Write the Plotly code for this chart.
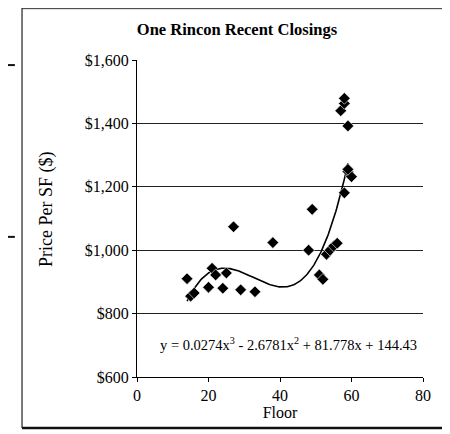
import numpy as np
import plotly.graph_objects as go

# Data
floors = [14, 15, 16, 20, 21, 22, 24, 25, 27, 29, 33, 38,
          48, 49, 51, 52, 53, 54, 55, 56, 57, 58, 58, 58, 59, 59, 60, 59]
prices = [910, 855, 865, 883, 943, 922, 880, 928, 1074, 875, 869, 1024,
          1000, 1129, 922, 908, 987, 1000, 1013, 1022, 1440, 1463, 1479, 1181,
          1392, 1248, 1232, 1255]

# Trendline coefficients as printed on the chart (cubic, highest power first)
trend_coefs = [0.0274, -2.6781, 81.778, 144.43]
trend_range = [14, 59]
equation_text = "y = 0.0274x<sup>3</sup> - 2.6781x<sup>2</sup> + 81.778x + 144.43"

title_text = "<b>One Rincon Recent Closings</b>"
x_title = "Floor"
y_title = "Price Per SF ($)"
x_ticks = [0, 20, 40, 60, 80]
y_ticks = [600, 800, 1000, 1200, 1400, 1600]
y_tick_labels = ["$600", "$800", "$1,000", "$1,200", "$1,400", "$1,600"]

tx = np.linspace(trend_range[0], trend_range[1], 200)
ty = np.polyval(trend_coefs, tx)

serif = "Liberation Serif, Times New Roman, serif"

fig = go.Figure()
fig.add_trace(go.Scatter(x=tx, y=ty, mode="lines",
                         line=dict(color="black", width=1.6),
                         hoverinfo="skip", showlegend=False))
fig.add_trace(go.Scatter(x=floors, y=prices, mode="markers",
                         marker=dict(symbol="diamond", size=9, color="black",
                                     line=dict(color="white", width=0.6)),
                         showlegend=False))

fig.add_annotation(x=42.3, y=704, xref="x", yref="y", text=equation_text,
                   showarrow=False, font=dict(family=serif, size=14.5, color="black"))

# y-axis title placed slightly above the plot centre, as in the reference
fig.add_annotation(x=-0.315, y=0.53, xref="paper", yref="paper", text=y_title,
                   textangle=-90, showarrow=False, xanchor="center", yanchor="middle",
                   font=dict(family=serif, size=18, color="black"))

# outer frame lines of the scanned page
shapes = [
    dict(type="line", xref="paper", yref="paper", x0=-0.402, x1=-0.402, y0=1.165, y1=-0.161,
         line=dict(color="#222", width=1.2)),
    dict(type="line", xref="paper", yref="paper", x0=-0.402, x1=1.1, y0=1.162, y1=1.162,
         line=dict(color="#333", width=1)),
    dict(type="line", xref="paper", yref="paper", x0=-0.402, x1=1.1, y0=-0.161, y1=-0.161,
         line=dict(color="#111", width=2.5)),
    dict(type="line", xref="paper", yref="paper", x0=-0.451, x1=-0.427, y0=0.984, y1=0.984,
         line=dict(color="#111", width=2)),
    dict(type="line", xref="paper", yref="paper", x0=-0.451, x1=-0.427, y0=0.442, y1=0.442,
         line=dict(color="#111", width=2)),
]

fig.update_layout(
    width=442, height=426,
    margin=dict(l=129, r=27, t=52, b=57),
    paper_bgcolor="white", plot_bgcolor="white",
    title=dict(text=title_text, x=0.518, xref="container", y=0.951, yref="container",
               xanchor="center", yanchor="middle",
               font=dict(family=serif, size=16.5, color="black")),
    font=dict(family=serif, size=16, color="black"),
    shapes=shapes,
    xaxis=dict(range=[0, 80], tickvals=x_ticks, showgrid=False, zeroline=False,
               showline=True, linecolor="black", linewidth=1.2,
               ticks="outside", ticklen=4, tickcolor="black",
               title=dict(text=x_title, standoff=2, font=dict(family=serif, size=16)),
               tickfont=dict(family=serif, size=16)),
    yaxis=dict(range=[600, 1600], tickvals=y_ticks, ticktext=y_tick_labels,
               showgrid=True, gridcolor="#222", gridwidth=1, zeroline=False,
               showline=True, linecolor="black", linewidth=1.2,
               ticks="outside", ticklen=4, tickcolor="black",
               tickfont=dict(family=serif, size=16)),
)

fig.write_html("out.html")
